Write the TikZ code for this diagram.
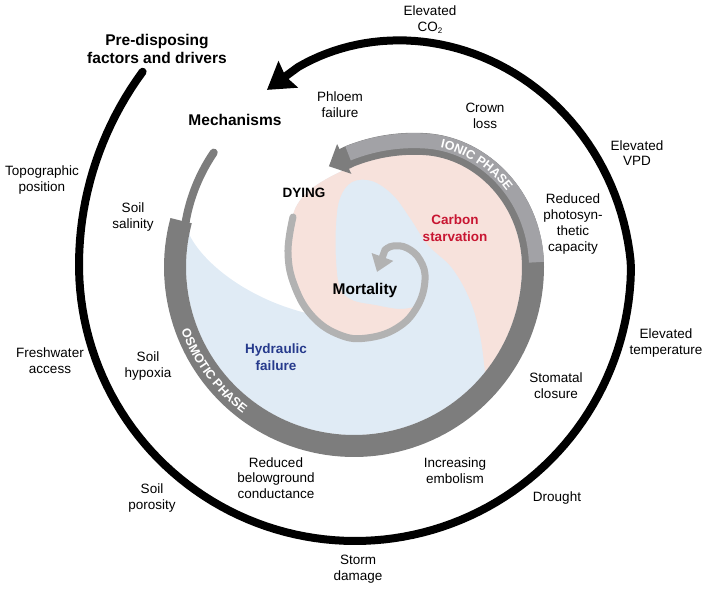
\documentclass[tikz,border=0pt]{standalone}
\usepackage{fontspec}
\setmainfont{Liberation Sans}
\usetikzlibrary{arrows.meta,decorations.text}
\definecolor{dgray}{RGB}{125,125,125}
\definecolor{lgray}{RGB}{162,162,166}
\definecolor{sgray}{RGB}{178,178,178}
\definecolor{pinkf}{RGB}{247,226,220}
\definecolor{bluef}{RGB}{224,235,245}
\definecolor{cred}{RGB}{200,22,50}
\definecolor{cblue}{RGB}{38,58,140}
\newcommand\bandfont{\color{white}\bfseries\fontsize{12.5}{12.5}\selectfont}
\begin{document}
\begin{tikzpicture}[x=1pt,y=-1pt,
  declare function={
    ua(\t)=max(0,(180-\t)/42);
    ub(\t)=max(0,(\t-360)/116.7);
    ro(\t)=276+11*ua(\t)*ua(\t)-80*ub(\t)*(0.6+0.4*ub(\t));
    ia(\t)=min(\t,60);
    ib(\t)=max(0,\t-60);
    rc(\t)=179-0.0103*ia(\t)*ia(\t)-1.24*ib(\t)+0.0085*ib(\t)*ib(\t);
  },
  lbl/.style={align=center,font=\fontsize{13.5}{15.7}\selectfont,inner sep=0pt},
  hd/.style={align=center,font=\bfseries\fontsize{15.5}{18.5}\selectfont,inner sep=0pt},
  bl/.style={align=center,font=\bfseries\fontsize{13.5}{17}\selectfont,inner sep=0pt},
]
\useasboundingbox (0,0) rectangle (709,591);

% blue region
\fill[bluef] plot[domain=168:360,samples=80,variable=\t] ({354+168*cos(\t)},{267-168*sin(\t)})
  -- plot[domain=0:96,samples=50,variable=\t] ({354+(rc(\t)-11)*cos(\t)},{267-(rc(\t)-11)*sin(\t)})
  .. controls (318,182) and (298,195) .. (293,215)
  -- plot[smooth,tension=0.7] coordinates {(293,215) (288,253) (295,287) (310,314)}
  .. controls (250,300) and (205,265) .. (190,236) -- cycle;

% pink region
\fill[pinkf] plot[domain=0:1,samples=50,variable=\u] ({354+(rc(96-96*\u)-11)*cos(96-96*\u)},{267-(rc(96-96*\u)-11)*sin(96-96*\u)})
  -- plot[domain=0:1,samples=20,variable=\u] ({354+168*cos(-38.6*\u)},{267-168*sin(-38.6*\u)})
  -- plot[smooth,tension=0.6] coordinates {(485,372) (480,335) (470,300) (452,268) (428,245) (410,218) (393,195) (372,181) (352,182) (340,198) (336,225) (336,260) (340,288) (352,300) (375,305) (400,309) (418,306)}
  -- plot[smooth,tension=0.7] coordinates {(418,306) (397,328) (367,338) (340,335) (313,317) (295,287) (288,253) (293,215)}
  .. controls (298,195) and (318,182) .. (343.8,170.2) -- cycle;

% thin stem
\draw[dgray,line width=8pt,line cap=round] plot[domain=140.8:166,samples=20,variable=\t] ({354+(174+7*(166-\t)/25.2)*cos(\t)},{267-(174+7*(166-\t)/25.2)*sin(\t)});

% main dark band with arrow
\draw[dgray,line width=22pt,line join=round,-{Triangle[length=17pt,width=32pt]}]
  plot[domain=165:360,samples=90,variable=\t] ({354+179*cos(\t)},{267-179*sin(\t)})
  -- plot[domain=0:92,samples=50,variable=\t] ({354+rc(\t)*cos(\t)},{267-rc(\t)*sin(\t)})
  -- ({354+rc(104)*cos(104)},{267-rc(104)*sin(104)});

% light stripe of ionic phase
\draw[lgray,line width=15pt] plot[domain=1.5:93,samples=50,variable=\t] ({354+(rc(\t)+3.5)*cos(\t)},{267-(rc(\t)+3.5)*sin(\t)});

% band texts
\path[decorate,decoration={text along path,text align=center,text={|\bandfont|IONIC PHASE}}]
  plot[domain=0:1,samples=40,variable=\u] ({354+(rc(68-54*\u)-1.5)*cos(68-54*\u)},{267-(rc(68-54*\u)-1.5)*sin(68-54*\u)});
\path[decorate,decoration={text along path,text align=center,text={|\bandfont|OSMOTIC PHASE}}]
  plot[domain=186:247,samples=40,variable=\t] ({354+184*cos(\t)},{267-184*sin(\t)});

% inner dying spiral
\draw[sgray,line width=7pt,line cap=round,-{Triangle[length=16pt,width=22pt]}]
  plot[smooth,tension=0.7] coordinates {(293,217) (288,253) (295,287) (313,317) (340,335) (367,338) (397,328) (417,307) (425,280) (420,260) (407,248) (393,246) (385,250)} -- (377,272);

% outer black spiral
\draw[black,line width=8pt,line cap=round,-{Stealth[length=26pt,width=32pt,inset=3pt]}]
  plot[domain=137.7:466,samples=160,variable=\t] ({355+ro(\t)*cos(\t)},{265-ro(\t)*sin(\t)})
  -- ({355+ro(476.7)*cos(476.7)},{265-ro(476.7)*sin(476.7)});

% labels
\node[lbl] (co2) at (430,20) {Elevated\\CO\raisebox{-0.35ex}{\fontsize{8}{8}\selectfont 2}};
\node[hd] (pre) at (157,49) {Pre-disposing\\factors and drivers};
\node[lbl] (phloem) at (340,105) {Phloem\\failure};
\node[lbl] (crown) at (485,116) {Crown\\loss};
\node[hd] (mech) at (235,120) {Mechanisms};
\node[lbl] (vpd) at (637,153) {Elevated\\VPD};
\node[lbl] (topo) at (42,180) {Topographic\\position};
\node[lbl] (photo) at (573,224) {Reduced\\photosyn-\\thetic\\capacity};
\node[lbl] (sal) at (133,217) {Soil\\salinity};
\node[bl] (dying) at (304,193) {DYING};
\node[bl,text=cred] (carbon) at (455,228) {Carbon\\starvation};
\node[hd] (mort) at (365,290) {Mortality};
\node[bl,text=cblue] (hydr) at (276,357) {Hydraulic\\failure};
\node[lbl] (fresh) at (50,361) {Freshwater\\access};
\node[lbl] (hyp) at (148,366) {Soil\\hypoxia};
\node[lbl] (temp) at (666,343) {Elevated\\temperature};
\node[lbl] (stom) at (556,386) {Stomatal\\closure};
\node[lbl] (below) at (276,478) {Reduced\\belowground\\conductance};
\node[lbl] (emb) at (455,471) {Increasing\\embolism};
\node[lbl] (drought) at (557,498) {Drought};
\node[lbl] (por) at (152,498) {Soil\\porosity};
\node[lbl] (storm) at (358,569) {Storm\\damage};
\end{tikzpicture}
\end{document}
